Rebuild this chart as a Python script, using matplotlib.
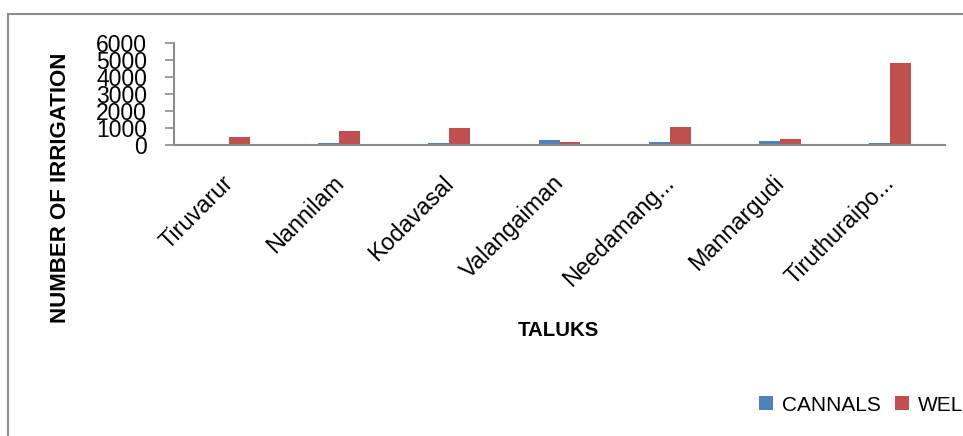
import matplotlib
matplotlib.use("Agg")
import matplotlib.pyplot as plt
import matplotlib.transforms as mtransforms
from matplotlib.patches import Rectangle
import numpy as np

taluks = ["Tiruvarur", "Nannilam", "Kodavasal", "Valangaiman",
          "Needamang...", "Mannargudi", "Tiruthuraipo..."]
cannals = [40, 100, 100, 290, 150, 210, 100]
wells = [470, 820, 1000, 180, 1050, 350, 4800]
yticks = [0, 1000, 2000, 3000, 4000, 5000, 6000]

blue = "#4F81BD"
red = "#C0504D"
grey = "#8C8C8C"

plt.rcParams["font.family"] = ["Liberation Sans", "DejaVu Sans"]

fig = plt.figure(figsize=(9.63, 4.36), dpi=100)
fig.patch.set_facecolor("white")

# chart frame
fig.patches.append(Rectangle((8 / 963, -0.05), 1.2, 1 - 14 / 436 + 0.05,
                             transform=fig.transFigure, fill=False,
                             edgecolor=grey, linewidth=1.5))

ax = fig.add_axes([174 / 963, 1 - 145 / 436, 771 / 963, 102 / 436])
x = np.arange(len(taluks))
w = 0.19
ax.bar(x - w / 2, cannals, w, color=blue, label="CANNALS")
ax.bar(x + w / 2, wells, w, color=red, label="WELLS")

ax.set_xlim(-0.5, len(taluks) - 0.5)
ax.set_ylim(0, 6000)
ax.set_yticks(yticks)
ax.set_yticklabels([str(v) for v in yticks], fontsize=16.5)
ax.tick_params(axis="y", length=6.5, width=1.2, color=grey, pad=13)
ax.set_xticks(x)
ax.set_xticklabels(taluks, rotation=45, ha="right", va="top",
                   rotation_mode="anchor", fontsize=16.8)
ax.tick_params(axis="x", length=0, pad=19)
shift = mtransforms.ScaledTranslation(-7 / 100, 0, fig.dpi_scale_trans)
for lbl in ax.get_xticklabels():
    lbl.set_transform(lbl.get_transform() + shift)

for s in ["top", "right"]:
    ax.spines[s].set_visible(False)
for s in ["left", "bottom"]:
    ax.spines[s].set_color(grey)
    ax.spines[s].set_linewidth(1.5)

fig.text(61 / 963, 1 - 188 / 436, "NUMBER OF IRRIGATION", rotation=90,
         ha="center", va="center", fontsize=16, fontweight="bold")
fig.text(558 / 963, 1 - 330 / 436, "TALUKS", ha="center", va="center",
         fontsize=14.7, fontweight="bold")

fig.legend(loc="center left", bbox_to_anchor=(759 / 963, 1 - 405 / 436),
           ncol=2, frameon=False, fontsize=15, handlelength=0.67,
           handleheight=0.67, handletextpad=0.43, columnspacing=0.67,
           borderpad=0, borderaxespad=0)

fig.savefig("out.png", dpi=100)
